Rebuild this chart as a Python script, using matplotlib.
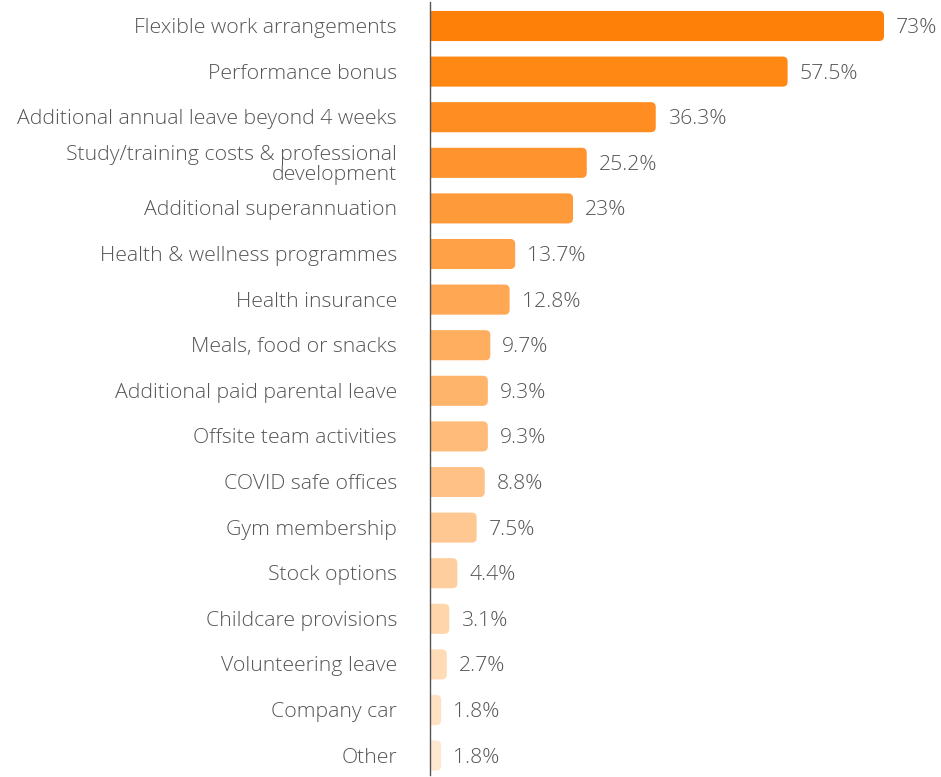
import matplotlib
matplotlib.use("Agg")
import matplotlib.pyplot as plt
from matplotlib.patches import FancyBboxPatch
import numpy as np

categories = [
    "Flexible work arrangements",
    "Performance bonus",
    "Additional annual leave beyond 4 weeks",
    "Study/training costs & professional\ndevelopment",
    "Additional superannuation",
    "Health & wellness programmes",
    "Health insurance",
    "Meals, food or snacks",
    "Additional paid parental leave",
    "Offsite team activities",
    "COVID safe offices",
    "Gym membership",
    "Stock options",
    "Childcare provisions",
    "Volunteering leave",
    "Company car",
    "Other",
]
values = [73, 57.5, 36.3, 25.2, 23, 13.7, 12.8, 9.7, 9.3, 9.3, 8.8, 7.5, 4.4, 3.1, 2.7, 1.8, 1.8]
value_labels = ["73%", "57.5%", "36.3%", "25.2%", "23%", "13.7%", "12.8%", "9.7%", "9.3%",
                "9.3%", "8.8%", "7.5%", "4.4%", "3.1%", "2.7%", "1.8%", "1.8%"]

plt.rcParams["font.family"] = ["Open Sans", "DejaVu Sans"]

W, H = 941, 777
fig = plt.figure(figsize=(W / 100, H / 100), dpi=100)
ax_left = 430 / W
ax = fig.add_axes([ax_left, 2 / H, 1 - ax_left, 773 / H])

n = len(values)
px_per_x = 454 / 73.0
xmax = (W - 430) / px_per_x
row_px = 45.6
# rows counted from the top; first row centred 28px below the figure top
top_idx = -(28 - 4) / row_px
bot_idx = top_idx + 773 / row_px
ax.set_xlim(0, xmax)
ax.set_ylim(bot_idx, top_idx)

c_dark = np.array([255, 128, 8]) / 255
c_light = np.array([255, 232, 208]) / 255
bar_h = 0.66
radius_px = 5
rs = radius_px / px_per_x
aspect = px_per_x / row_px
txt_col = "#555555"
dy = 2 / row_px

for i, (v, lab) in enumerate(zip(values, value_labels)):
    t = i / (n - 1)
    col = c_dark * (1 - t) + c_light * t
    patch = FancyBboxPatch((-2, i - bar_h / 2), v + 2, bar_h,
                           boxstyle=f"round,pad=0,rounding_size={rs}",
                           mutation_aspect=aspect, facecolor=col, edgecolor="none",
                           clip_on=True)
    ax.add_patch(patch)
    ax.text(v + 12 / px_per_x, i + dy, lab, va="center", ha="left",
            fontsize=15.3, color=txt_col, fontweight="light")
    ax.text(-33 / px_per_x, i + dy, categories[i], va="center", ha="right",
            fontsize=15.3, color=txt_col, linespacing=1.0, clip_on=False,
            fontweight="light")

for s in ["top", "right", "bottom"]:
    ax.spines[s].set_visible(False)
ax.spines["left"].set_color("#555555")
ax.spines["left"].set_linewidth(1.0)
ax.set_xticks([])
ax.set_yticks([])
ax.patch.set_alpha(0)

fig.savefig("out.png", dpi=100)
